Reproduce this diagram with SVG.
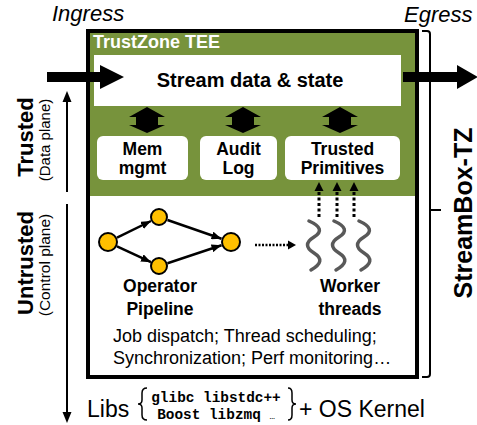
<svg xmlns="http://www.w3.org/2000/svg" width="477" height="425" viewBox="0 0 477 425">
<defs>
<style>
text{font-family:"Liberation Sans",Arial,sans-serif;fill:#000}
.b{font-weight:bold}
.it{font-style:italic;font-size:22px}
.box{fill:#fff}
.lbl{font-size:17.5px;font-weight:bold;text-anchor:middle}
.node{fill:#FFC000;stroke:#000;stroke-width:2}
.edge{stroke:#000;stroke-width:2.5;fill:none}
.wave{stroke:#595959;stroke-width:3.5;fill:none;stroke-linejoin:round;stroke-linecap:round}
.dot{stroke:#000;stroke-width:3;stroke-dasharray:3 2.5;fill:none}
.mono{font-family:"Liberation Mono","Courier New",monospace;font-weight:bold;font-size:14.4px;text-anchor:middle}
</style>
<marker id="ah" viewBox="0 0 10 8" refX="10" refY="4" markerWidth="10" markerHeight="8" markerUnits="userSpaceOnUse" orient="auto">
<path d="M0,0 L10,4 L0,8 z" fill="#000"/>
</marker>
<path id="dbl" d="M0,0 L18,10 L11,10 L11,18 L18,18 L0,26 L-18,18 L-11,18 L-11,10 L-18,10 Z" fill="#000"/>
<path id="wv" d="M-5,221 Q13,229 0,237 T0,253 T-3,270" class="wave"/>
</defs>

<rect width="477" height="425" fill="#fff"/>

<text class="it" x="52" y="21">Ingress</text>
<text class="it" x="404" y="22">Egress</text>

<g id="axis">
<line x1="67" y1="192" x2="67" y2="100" stroke="#000" stroke-width="2"/>
<path d="M62.5,102 L67,91 L71.5,102 Z" fill="#000"/>
<line x1="67" y1="204" x2="67" y2="414" stroke="#000" stroke-width="2"/>
<path d="M62.5,412 L67,423 L71.5,412 Z" fill="#000"/>
</g>
<g id="trusted-label">
<text class="b" font-size="22" text-anchor="middle" transform="translate(33,137) rotate(-90)">Trusted</text>
<text font-size="15" text-anchor="middle" transform="translate(50,140) rotate(-90)">(Data plane)</text>
</g>
<g id="untrusted-label">
<text class="b" font-size="22" text-anchor="middle" transform="translate(33,263) rotate(-90)">Untrusted</text>
<text font-size="15.5" text-anchor="middle" transform="translate(50,265) rotate(-90)">(Control plane)</text>
</g>

<g id="streambox">
<rect x="88" y="31" width="329" height="346" fill="#fff"/>
<rect x="88" y="31" width="329" height="165" fill="#77933C"/>
<rect x="88" y="31" width="329" height="346" fill="none" stroke="#000" stroke-width="4"/>
<text class="b" x="93" y="48" font-size="18" style="fill:#fff">TrustZone TEE</text>
</g>

<g id="stream-state">
<rect class="box" x="94" y="55" width="307" height="51"/>
<text class="b" x="250" y="87" font-size="20" text-anchor="middle">Stream data &amp; state</text>
</g>

<g id="mem-mgmt">
<rect class="box" x="97" y="136" width="91" height="44" rx="6"/>
<text class="lbl" x="142.5" y="155">Mem</text>
<text class="lbl" x="142.5" y="174">mgmt</text>
</g>
<g id="audit-log">
<rect class="box" x="200" y="136" width="77" height="44" rx="6"/>
<text class="lbl" x="238.5" y="155">Audit</text>
<text class="lbl" x="238.5" y="174">Log</text>
</g>
<g id="trusted-primitives">
<rect class="box" x="285" y="136" width="115" height="44" rx="6"/>
<text class="lbl" x="342.5" y="155">Trusted</text>
<text class="lbl" x="342.5" y="174">Primitives</text>
</g>

<g id="pipeline">
<circle class="node" cx="108" cy="242" r="9"/>
<circle class="node" cx="159" cy="217" r="8"/>
<circle class="node" cx="159" cy="266" r="8"/>
<circle class="node" cx="231" cy="242" r="9"/>
<text class="lbl" x="160" y="292">Operator</text>
<text class="lbl" x="160" y="315">Pipeline</text>
</g>

<g id="workers">
<use href="#wv" x="314"/>
<use href="#wv" x="339"/>
<use href="#wv" x="364"/>
<text class="lbl" x="350" y="292">Worker</text>
<text class="lbl" x="350" y="315">threads</text>
</g>

<g id="control-text">
<text x="113" y="342" font-size="18">Job dispatch; Thread scheduling;</text>
<text x="113" y="364" font-size="18">Synchronization; Perf monitoring…</text>
</g>

<g id="connectors">
<use href="#dbl" x="147" y="107"/>
<use href="#dbl" x="243" y="107"/>
<use href="#dbl" x="340" y="107"/>
<line class="edge" x1="117" y1="237.6" x2="151" y2="221" marker-end="url(#ah)"/>
<line class="edge" x1="167.5" y1="220" x2="221.5" y2="238.7" marker-end="url(#ah)"/>
<line class="edge" x1="117" y1="246.3" x2="151" y2="262.2" marker-end="url(#ah)"/>
<line class="edge" x1="167.5" y1="263.2" x2="221.5" y2="245.2" marker-end="url(#ah)"/>
<line x1="255" y1="245" x2="289" y2="245" stroke="#000" stroke-width="2.5" stroke-dasharray="2 1.5"/>
<path d="M288,240.5 L296,245 L288,249.5 Z" fill="#000"/>
<line class="dot" x1="319" y1="217" x2="319" y2="191"/>
<path d="M314.5,191 L319,182 L323.5,191 Z" fill="#000"/>
<line class="dot" x1="337" y1="217" x2="337" y2="191"/>
<path d="M332.5,191 L337,182 L341.5,191 Z" fill="#000"/>
<line class="dot" x1="354" y1="217" x2="354" y2="191"/>
<path d="M349.5,191 L354,182 L358.5,191 Z" fill="#000"/>
</g>

<g id="bracket">
<path d="M422,31 L427,31 Q430,31 430,34 L430,374 Q430,377 427,377 L422,377 M430,210 L441,210" fill="none" stroke="#000" stroke-width="2"/>
<text class="b" font-size="25" text-anchor="middle" transform="translate(472,213) rotate(-90)">StreamBox-TZ</text>
</g>

<g id="ingress">
<path d="M47,72 L100,72 L100,65 L124,77 L100,89 L100,82 L47,82 Z" fill="#000"/>
</g>
<g id="egress">
<path d="M403,72 L457,72 L457,65 L478,77 L457,89 L457,82 L403,82 Z" fill="#000"/>
</g>

<g id="libs">
<text x="87" y="417" font-size="23">Libs</text>
<path d="M147,388 Q142,388 142,393 L142,400 Q142,404 138,404 Q142,404 142,408 L142,415 Q142,420 147,420" fill="none" stroke="#000" stroke-width="1.5"/>
<text class="mono" x="216" y="402">glibc libstdc++</text>
<text class="mono" x="216" y="419">Boost libzmq <tspan font-size="9" font-weight="normal">…</tspan></text>
<path d="M288,388 Q292,388 292,393 L292,400 Q292,404 296,404 Q292,404 292,408 L292,415 Q292,420 288,420" fill="none" stroke="#000" stroke-width="1.5"/>
<text x="299" y="417" font-size="23">+ OS Kernel</text>
</g>
</svg>
